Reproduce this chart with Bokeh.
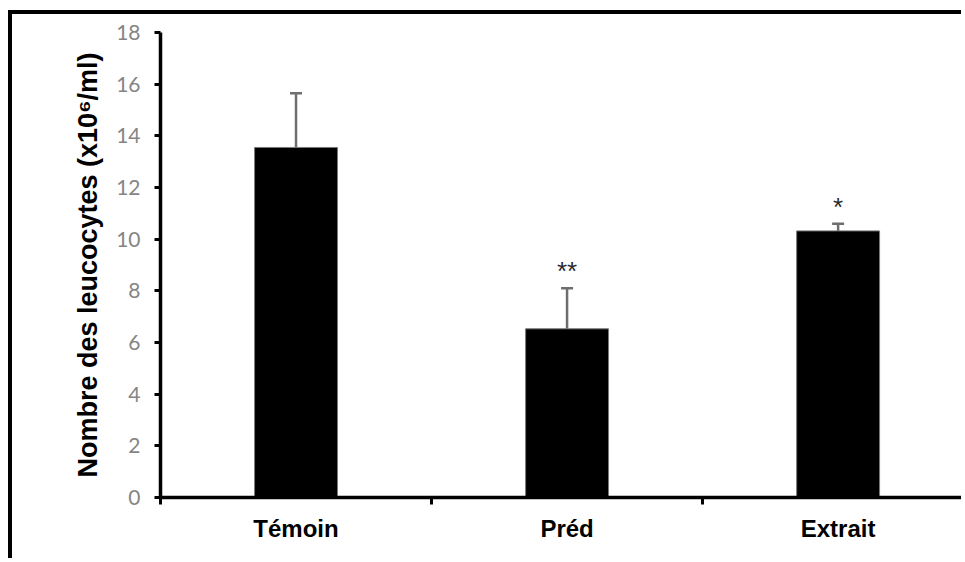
from bokeh.plotting import figure
from bokeh.models import FixedTicker, Range1d, Whisker, TeeHead, ColumnDataSource
from bokeh.core.properties import value
from bokeh.embed import file_html
from bokeh.resources import INLINE

categories = ["Témoin", "Préd", "Extrait"]
means = [13.55, 6.53, 10.32]
errors = [2.10, 1.57, 0.28]
stars = ["", "**", "*"]
y_ticks = [0, 2, 4, 6, 8, 10, 12, 14, 16, 18]

xs = [i + 0.5 for i in range(len(categories))]
uppers = [m + e for m, e in zip(means, errors)]

src = ColumnDataSource(data=dict(x=xs, top=means, upper=uppers, stars=stars))

p = figure(width=953, height=548, output_backend="svg", toolbar_location=None,
           x_range=Range1d(0, 2.97), y_range=Range1d(0, 18),
           min_border_left=148, min_border_right=0, min_border_top=18, min_border_bottom=65)
p.styles = {"border-top": "4px solid black", "border-left": "4px solid black",
            "margin-top": "10px", "margin-left": "8px"}
p.outline_line_color = None
p.grid.visible = False
p.background_fill_color = "white"
p.border_fill_color = "white"

p.vbar(x="x", top="top", width=0.306, bottom=0, source=src,
       fill_color="black", line_color="#7a7a7a", line_width=1)

w = Whisker(base="x", lower="top", upper="upper", source=src,
            line_color="#6e6e6e", line_width=2.5,
            lower_head=None,
            upper_head=TeeHead(size=12, line_color="#6e6e6e", line_width=2.5))
p.add_layout(w)

p.text(x="x", y="upper", text="stars", source=src, text_align="center",
       text_baseline="bottom", y_offset=-2, text_font=value("Liberation Sans"),
       text_font_size="26px", text_color="#2a2a2a")

# y axis
ya = p.yaxis[0]
ya.ticker = FixedTicker(ticks=y_ticks)
ya.axis_line_width = 3.5
ya.axis_line_color = "black"
ya.major_tick_line_width = 3
ya.major_tick_out = 6
ya.major_tick_in = 0
ya.minor_tick_line_color = None
ya.major_label_text_font = "Lato"
ya.major_label_text_font_size = "21px"
ya.major_label_text_color = "#858585"
ya.major_label_standoff = 14
ya.axis_label = "Nombre des leucocytes (x10⁶/ml)"
ya.axis_label_text_font = "Liberation Sans"
ya.axis_label_text_font_style = "bold"
ya.axis_label_text_font_size = "27px"
ya.axis_label_text_color = "black"
ya.axis_label_standoff = 10

# x axis
xa = p.xaxis[0]
xa.ticker = FixedTicker(ticks=xs, minor_ticks=[0, 1, 2, 3])
xa.major_label_overrides = {x: c for x, c in zip(xs, categories)}
xa.axis_line_width = 3.5
xa.axis_line_color = "black"
xa.major_tick_line_color = None
xa.major_tick_out = 0
xa.major_tick_in = 0
xa.minor_tick_line_color = "black"
xa.minor_tick_line_width = 3
xa.minor_tick_out = 7
xa.minor_tick_in = 0
xa.major_label_text_font = "Liberation Sans"
xa.major_label_text_font_size = "24px"
xa.major_label_text_font_style = "bold"
xa.major_label_text_color = "black"
xa.major_label_standoff = 10

open("out.html", "w").write(file_html(p, INLINE))
